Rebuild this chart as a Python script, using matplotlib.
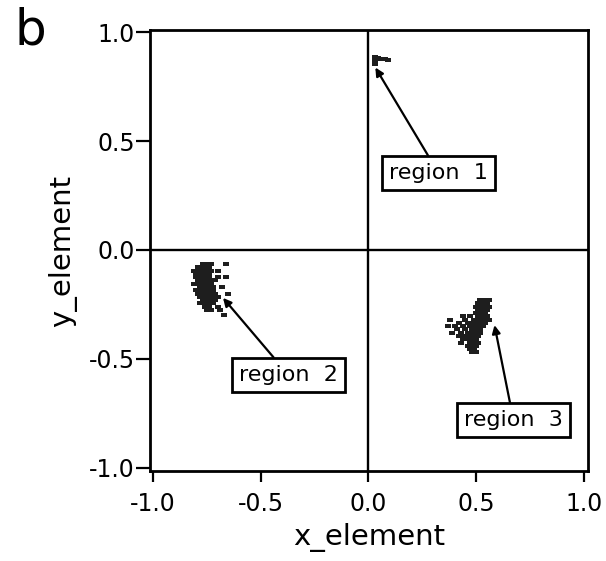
import matplotlib.pyplot as plt

plt.rcParams['font.family'] = ['DejaVu Sans']

# region 1: small cluster near the top of the y axis
region1_x = [0.030, 0.030, 0.030, 0.045, 0.060, 0.075, 0.090]
region1_y = [0.885, 0.870, 0.855, 0.880, 0.875, 0.875, 0.872]

# region 2: cluster in the lower left quadrant
region2_x = [-0.77, -0.75, -0.73, -0.66,
             -0.79, -0.77, -0.75, -0.74,
             -0.81, -0.79, -0.77, -0.75, -0.73, -0.70,
             -0.80, -0.78, -0.76, -0.74,
             -0.80, -0.78, -0.76, -0.74, -0.70, -0.66,
             -0.79, -0.77, -0.75, -0.73, -0.71,
             -0.81, -0.79, -0.77, -0.75, -0.73,
             -0.78, -0.76, -0.74, -0.72, -0.68,
             -0.80, -0.78, -0.76, -0.74, -0.72,
             -0.79, -0.77, -0.75, -0.73, -0.71, -0.65,
             -0.78, -0.76, -0.74, -0.72, -0.70,
             -0.77, -0.75, -0.73, -0.71,
             -0.78, -0.76, -0.74, -0.72,
             -0.76, -0.74, -0.70,
             -0.75, -0.73, -0.69,
             -0.67]
region2_y = [-0.065, -0.065, -0.065, -0.065,
             -0.080, -0.080, -0.080, -0.080,
             -0.095, -0.095, -0.095, -0.095, -0.095, -0.095,
             -0.110, -0.110, -0.110, -0.110,
             -0.125, -0.125, -0.125, -0.125, -0.125, -0.125,
             -0.140, -0.140, -0.140, -0.140, -0.140,
             -0.155, -0.155, -0.155, -0.155, -0.155,
             -0.170, -0.170, -0.170, -0.170, -0.170,
             -0.185, -0.185, -0.185, -0.185, -0.185,
             -0.200, -0.200, -0.200, -0.200, -0.200, -0.200,
             -0.215, -0.215, -0.215, -0.215, -0.215,
             -0.230, -0.230, -0.230, -0.230,
             -0.245, -0.245, -0.245, -0.245,
             -0.260, -0.260, -0.260,
             -0.275, -0.275, -0.275,
             -0.300]

# region 3: cluster in the lower right quadrant
region3_x = [0.52, 0.54, 0.56,
             0.51, 0.53, 0.55,
             0.50, 0.52, 0.54, 0.56,
             0.51, 0.53, 0.55,
             0.50, 0.52, 0.54,
             0.44, 0.47, 0.51, 0.53, 0.55,
             0.38, 0.45, 0.49, 0.51, 0.53, 0.56,
             0.42, 0.46, 0.48, 0.50, 0.52, 0.54,
             0.37, 0.40, 0.44, 0.47, 0.49, 0.51, 0.53,
             0.41, 0.45, 0.48, 0.50, 0.52,
             0.39, 0.43, 0.46, 0.48, 0.50, 0.52,
             0.42, 0.45, 0.47, 0.49, 0.51,
             0.44, 0.46, 0.48, 0.50,
             0.43, 0.47, 0.49, 0.51,
             0.46, 0.48, 0.50,
             0.47, 0.49,
             0.48, 0.50]
region3_y = [-0.230, -0.230, -0.230,
             -0.245, -0.245, -0.245,
             -0.260, -0.260, -0.260, -0.260,
             -0.275, -0.275, -0.275,
             -0.290, -0.290, -0.290,
             -0.305, -0.305, -0.305, -0.305, -0.305,
             -0.320, -0.320, -0.320, -0.320, -0.320, -0.320,
             -0.335, -0.335, -0.335, -0.335, -0.335, -0.335,
             -0.350, -0.350, -0.350, -0.350, -0.350, -0.350, -0.350,
             -0.365, -0.365, -0.365, -0.365, -0.365,
             -0.380, -0.380, -0.380, -0.380, -0.380, -0.380,
             -0.395, -0.395, -0.395, -0.395, -0.395,
             -0.410, -0.410, -0.410, -0.410,
             -0.425, -0.425, -0.425, -0.425,
             -0.440, -0.440, -0.440,
             -0.455, -0.455,
             -0.470, -0.470]

labels = ["region  1", "region  2", "region  3"]
label_xy = [(0.325, 0.354), (-0.371, -0.574), (0.673, -0.781)]
arrow_xy = [(0.032, 0.838), (-0.675, -0.22), (0.585, -0.345)]

ticks = [-1.0, -0.5, 0.0, 0.5, 1.0]

fig = plt.figure(figsize=(6.06, 5.61), dpi=100)
ax = fig.add_axes([0.2475, 0.1604, 0.7228, 0.786])

dash = [(-1, -0.65), (1, -0.65), (1, 0.65), (-1, 0.65), (-1, -0.65)]
for xs, ys in [(region1_x, region1_y), (region2_x, region2_y), (region3_x, region3_y)]:
    ax.scatter(xs, ys, marker=dash, s=24, color='#1e1e1e', linewidths=0, zorder=3)

ax.axhline(0, color='black', lw=1.7, zorder=2)
ax.axvline(0, color='black', lw=1.7, zorder=2)

for txt, (tx, ty), (px, py) in zip(labels, label_xy, arrow_xy):
    ax.annotate(txt, xy=(px, py), xytext=(tx, ty), ha='center', va='center',
                fontsize=16,
                bbox=dict(boxstyle='square,pad=0.3', fc='white', ec='black', lw=2),
                arrowprops=dict(arrowstyle='-|>', color='black', lw=1.6,
                                mutation_scale=12, shrinkA=0, shrinkB=0),
                zorder=4)

ax.set_xlim(-1.014, 1.019)
ax.set_ylim(-1.015, 1.01)
ax.set_xticks(ticks)
ax.set_yticks(ticks)
ax.set_xticklabels([f"{t:.1f}" for t in ticks])
ax.set_yticklabels([f"{t:.1f}" for t in ticks])
ax.tick_params(axis='x', direction='out', length=8, width=1.6, pad=7, labelsize=17)
ax.tick_params(axis='y', direction='out', length=10, width=1.6, pad=1, labelsize=17)
for sp in ax.spines.values():
    sp.set_linewidth(2)

ax.set_xlabel("x_element", fontsize=21, labelpad=5)
ax.set_ylabel("y_element", fontsize=21, labelpad=8)

fig.text(0.05, 0.945, "b", fontsize=36, ha='center', va='center')

fig.savefig("out.png", dpi=100)
